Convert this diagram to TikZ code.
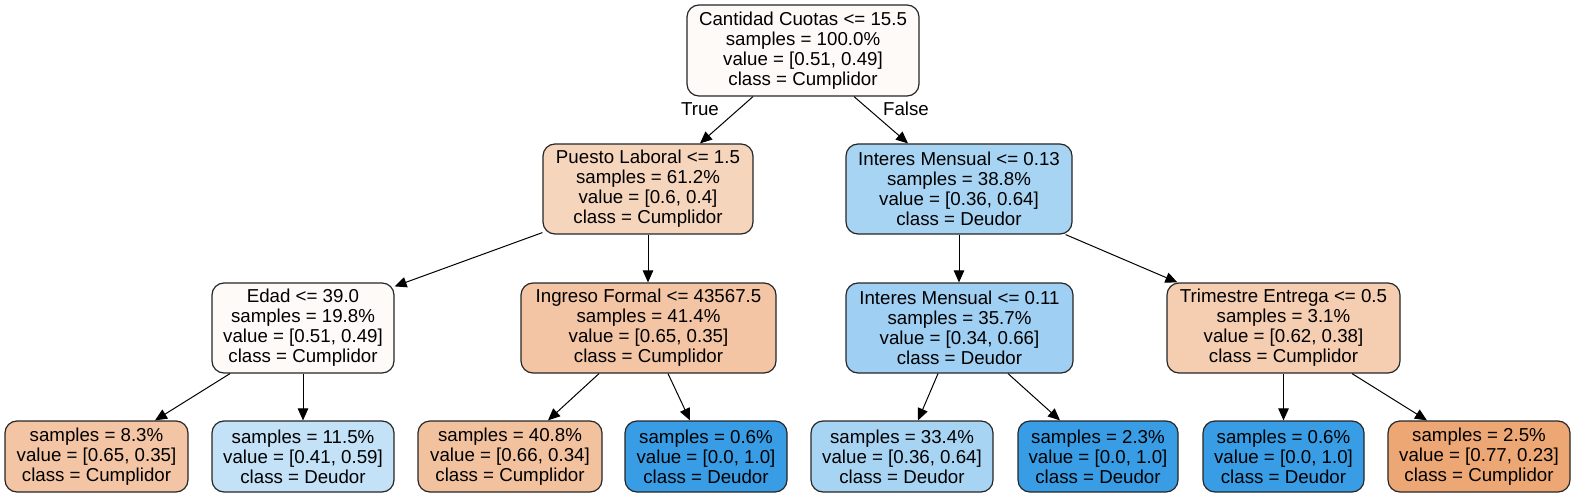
\documentclass[tikz,border=0pt]{standalone}
\usepackage{fontspec}
\setmainfont{Liberation Sans}
\usetikzlibrary{arrows.meta}
\definecolor{cRoot}{HTML}{FEFAF7}
\definecolor{cPuesto}{HTML}{F6D5BD}
\definecolor{cIntA}{HTML}{A8D4F4}
\definecolor{cIngreso}{HTML}{F3C5A4}
\definecolor{cIntB}{HTML}{9FCFF2}
\definecolor{cTrim}{HTML}{F5CEB2}
\definecolor{cLeafB}{HTML}{C3E1F7}
\definecolor{cLeafC}{HTML}{F2C29F}
\definecolor{cDeep}{HTML}{399DE5}
\definecolor{cOrange}{HTML}{EDA774}
\tikzset{
  tnode/.style={draw=black!85, line width=1.2pt, rounded corners=12pt, inner sep=0pt,
    align=center, font=\fontsize{18.7}{20}\selectfont},
  edge/.style={draw=black, line width=1pt, -{Triangle[length=12pt,width=10.5pt]}},
  elabel/.style={font=\fontsize{18.7}{20}\selectfont, inner sep=0pt}
}
\begin{document}
\begin{tikzpicture}[x=1pt,y=-1pt]
\useasboundingbox (0,0) rectangle (1576,497);
% level 1
\node[tnode, fill=cRoot, minimum width=232pt, minimum height=91pt] (root) at (803,50.5)
  {Cantidad Cuotas <= 15.5\\samples = 100.0\%\\value = [0.51, 0.49]\\class = Cumplidor};
% level 2
\node[tnode, fill=cPuesto, minimum width=210pt, minimum height=90pt] (puesto) at (648,189)
  {Puesto Laboral <= 1.5\\samples = 61.2\%\\value = [0.6, 0.4]\\class = Cumplidor};
\node[tnode, fill=cIntA, minimum width=226pt, minimum height=90pt] (intA) at (959,189)
  {Interes Mensual <= 0.13\\samples = 38.8\%\\value = [0.36, 0.64]\\class = Deudor};
% level 3
\node[tnode, fill=cRoot, minimum width=182pt, minimum height=90pt] (edad) at (303,328)
  {Edad <= 39.0\\samples = 19.8\%\\value = [0.51, 0.49]\\class = Cumplidor};
\node[tnode, fill=cIngreso, minimum width=255pt, minimum height=90pt] (ingreso) at (648.5,328)
  {Ingreso Formal <= 43567.5\\samples = 41.4\%\\value = [0.65, 0.35]\\class = Cumplidor};
\node[tnode, fill=cIntB, minimum width=227pt, minimum height=90pt] (intB) at (959.5,328)
  {Interes Mensual <= 0.11\\samples = 35.7\%\\value = [0.34, 0.66]\\class = Deudor};
\node[tnode, fill=cTrim, minimum width=233pt, minimum height=90pt] (trim) at (1283.5,328)
  {Trimestre Entrega <= 0.5\\samples = 3.1\%\\value = [0.62, 0.38]\\class = Cumplidor};
% leaves
\node[tnode, fill=cIngreso, minimum width=183pt, minimum height=71pt] (l1) at (96.5,456.5)
  {samples = 8.3\%\\value = [0.65, 0.35]\\class = Cumplidor};
\node[tnode, fill=cLeafB, minimum width=182pt, minimum height=71pt] (l2) at (303,456.5)
  {samples = 11.5\%\\value = [0.41, 0.59]\\class = Deudor};
\node[tnode, fill=cLeafC, minimum width=184pt, minimum height=71pt] (l3) at (510,456.5)
  {samples = 40.8\%\\value = [0.66, 0.34]\\class = Cumplidor};
\node[tnode, fill=cDeep, minimum width=162pt, minimum height=71pt] (l4) at (706,456.5)
  {samples = 0.6\%\\value = [0.0, 1.0]\\class = Deudor};
\node[tnode, fill=cIntA, minimum width=182pt, minimum height=71pt] (l5) at (902,456.5)
  {samples = 33.4\%\\value = [0.36, 0.64]\\class = Deudor};
\node[tnode, fill=cDeep, minimum width=160pt, minimum height=71pt] (l6) at (1098,456.5)
  {samples = 2.3\%\\value = [0.0, 1.0]\\class = Deudor};
\node[tnode, fill=cDeep, minimum width=161pt, minimum height=71pt] (l7) at (1283.5,456.5)
  {samples = 0.6\%\\value = [0.0, 1.0]\\class = Deudor};
\node[tnode, fill=cOrange, minimum width=182pt, minimum height=71pt] (l8) at (1479,456.5)
  {samples = 2.5\%\\value = [0.77, 0.23]\\class = Cumplidor};
% edge labels
\node[elabel] (tlab) at (700,109) {True};
\node[elabel] (flab) at (906,109) {False};
% edges
\draw[edge] ([xshift=-50pt]root.south) -- ([xshift=52pt]puesto.north);
\draw[edge] ([xshift=51pt]root.south) -- ([xshift=-51pt]intA.north);
\draw[edge] ([yshift=2pt]puesto.south west) -- ([yshift=-4pt]edad.north east);
\draw[edge] (puesto.south) -- (puesto.south |- ingreso.north);
\draw[edge] (intA.south) -- (intA.south |- intB.north);
\draw[edge] ([xshift=-7pt]intA.south east) -- ([xshift=11pt]trim.north west);
\draw[edge] ([xshift=-73pt]edad.south) -- ([xshift=58.5pt]l1.north);
\draw[edge] (edad.south) -- (l2.north);
\draw[edge] ([xshift=-49.5pt]ingreso.south) -- ([xshift=38pt]l3.north);
\draw[edge] ([xshift=19.5pt]ingreso.south) -- ([xshift=-16pt]l4.north);
\draw[edge] ([xshift=-21.5pt]intB.south) -- ([xshift=16pt]l5.north);
\draw[edge] ([xshift=48.5pt]intB.south) -- ([xshift=-38pt]l6.north);
\draw[edge] (trim.south) -- (l7.north);
\draw[edge] ([xshift=68.5pt]trim.south) -- ([xshift=-52pt]l8.north);
\end{tikzpicture}
\end{document}
